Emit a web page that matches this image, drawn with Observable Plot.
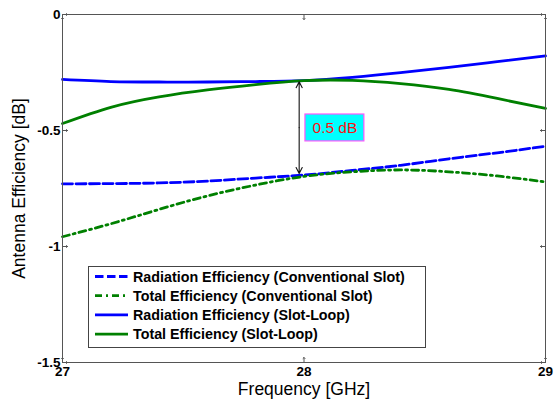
<!DOCTYPE html>
<html><head><meta charset="utf-8">
<script src="https://cdn.jsdelivr.net/npm/d3@7"></script>
<script src="https://cdn.jsdelivr.net/npm/@observablehq/plot@0.6"></script>
<style>body{margin:0;background:#fff}</style>
</head><body><div id="chart"></div>
<script>
const freq = [27.0, 27.2, 27.4, 27.6, 27.8, 28.0, 28.2, 28.4, 28.6, 28.8, 29.0];
const radConventional = [-0.730, -0.729, -0.726, -0.718, -0.705, -0.692, -0.672, -0.650, -0.622, -0.596, -0.568];
const totConventional = [-0.958, -0.902, -0.840, -0.782, -0.735, -0.698, -0.678, -0.670, -0.678, -0.696, -0.722];
const radSlotLoop = [-0.280, -0.289, -0.291, -0.291, -0.289, -0.285, -0.271, -0.251, -0.228, -0.203, -0.178];
const totSlotLoop = [-0.470, -0.400, -0.355, -0.325, -0.302, -0.285, -0.284, -0.298, -0.323, -0.362, -0.405];
const seriesNames = ["Radiation Efficiency (Conventional Slot)", "Total Efficiency (Conventional Slot)", "Radiation Efficiency (Slot-Loop)", "Total Efficiency (Slot-Loop)"];
const seriesColors = ["#0000ff", "#008000", "#0000ff", "#008000"];
const seriesDash = ["10,3.5", "7,4,2,4", null, null];
const xTicks = [27, 28, 29];
const yTicks = [0, -0.5, -1, -1.5];
const xLabel = "Frequency [GHz]";
const yLabel = "Antenna Efficiency [dB]";
const annotationArrow = {x: 27.98, yTop: -0.29, yBottom: -0.685};
const annotationBox = {x1: 28.006, x2: 28.25, y1: -0.431, y2: -0.547, label: "0.5 dB"};

const font = "'Liberation Sans', Arial, sans-serif";
const xDomain = [27, 29];
const yDomain = [-1.5, 0];
const allValues = [radConventional, totConventional, radSlotLoop, totSlotLoop];
const rows = allValues.flatMap((vals, s) => vals.map((v, i) => ({series: s, f: freq[i], v})));
const lineMarks = allValues.map((vals, s) => Plot.line(rows.filter(r => r.series === s), {
  x: "f", y: "v", stroke: seriesColors[s], strokeWidth: 2.8,
  strokeDasharray: seriesDash[s] || undefined, curve: "natural"
}));
const arrowMid = (annotationArrow.yTop + annotationArrow.yBottom) / 2;
const tickStyle = {length: 5, anchor: "start", stroke: "#555", strokeWidth: 1};

const chart = Plot.plot({
  width: 554, height: 407,
  marginLeft: 62, marginRight: 9, marginTop: 14, marginBottom: 45,
  style: {fontFamily: font, background: "#fff", color: "#000"},
  x: {domain: xDomain},
  y: {domain: yDomain},
  marks: [
    Plot.rect([annotationBox], {x1: "x1", x2: "x2", y1: "y1", y2: "y2", fill: "#00ffff", stroke: "#ff55ff", strokeWidth: 1.2}),
    Plot.text([annotationBox], {x: d => (d.x1 + d.x2) / 2, y: d => (d.y1 + d.y2) / 2, text: "label", fill: "#ff1010", fontSize: 15.5}),
    ...lineMarks,
    Plot.arrow([annotationArrow], {x1: "x", x2: "x", y1: () => arrowMid, y2: "yTop", stroke: "#111", strokeWidth: 1.1, headLength: 9, headAngle: 55}),
    Plot.arrow([annotationArrow], {x1: "x", x2: "x", y1: () => arrowMid, y2: "yBottom", stroke: "#111", strokeWidth: 1.1, headLength: 9, headAngle: 55}),
    Plot.frame({stroke: "#555"}),
    // inward tick marks on all four sides
    Plot.vector(xTicks, {x: d => d, y: () => yDomain[0], rotate: 0, ...tickStyle}),
    Plot.vector(xTicks, {x: d => d, y: () => yDomain[1], rotate: 180, ...tickStyle}),
    Plot.vector(yTicks, {y: d => d, x: () => xDomain[0], rotate: 90, ...tickStyle}),
    Plot.vector(yTicks, {y: d => d, x: () => xDomain[1], rotate: 270, ...tickStyle}),
    Plot.axisX(xTicks, {anchor: "bottom", tickSize: 0, tickPadding: 4, fontSize: 13.5, fontWeight: "bold", label: null, tickFormat: d => String(d), fill: "#000"}),
    Plot.axisY(yTicks, {anchor: "left", tickSize: 0, tickPadding: 2, fontSize: 13.5, fontWeight: "bold", label: null, tickFormat: d => String(d), fill: "#000"}),
    Plot.text([xLabel], {frameAnchor: "bottom", dy: 27, fontSize: 17.5, lineAnchor: "middle", textAnchor: "middle", fill: "#000"}),
    Plot.text([yLabel], {frameAnchor: "left", dx: -43.5, rotate: -90, fontSize: 17.5, lineAnchor: "middle", textAnchor: "middle", fill: "#000"})
  ]
});
document.getElementById("chart").appendChild(chart);

// Legend (inside the axes, lower-left)
const svg = d3.select(chart.tagName.toLowerCase() === "svg" ? chart : chart.querySelector("svg"));
const lg = svg.append("g").attr("font-family", font).attr("text-anchor", "start");
lg.append("rect").attr("x", 88.5).attr("y", 266.5).attr("width", 337).attr("height", 81)
  .attr("fill", "#fff").attr("stroke", "#444").attr("stroke-width", 1);
seriesNames.forEach((name, i) => {
  const y = 276.5 + i * 19.2;
  lg.append("line").attr("x1", 95).attr("x2", 128).attr("y1", y).attr("y2", y)
    .attr("stroke", seriesColors[i]).attr("stroke-width", 2.8)
    .attr("stroke-dasharray", i === 0 ? "8.5,3.5" : (seriesDash[i] || null));
  lg.append("text").attr("x", 133).attr("y", y).attr("dy", "0.35em").attr("text-anchor", "start")
    .attr("font-size", 14.3).attr("font-weight", "bold").attr("fill", "#000").text(name);
});
</script>
</body></html>
